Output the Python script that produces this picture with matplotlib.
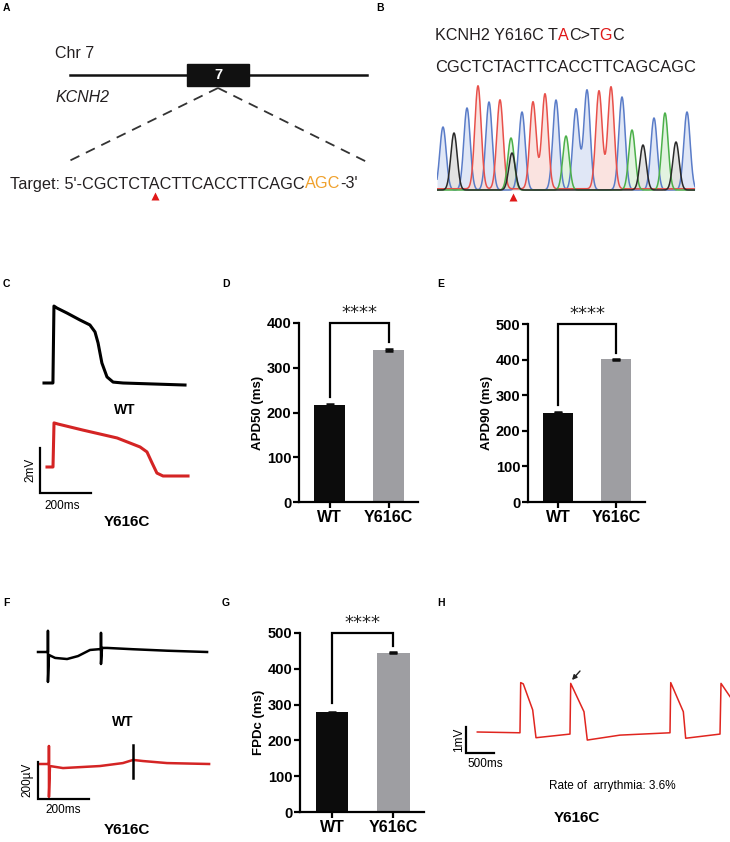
#-----------------------------------------------------------------
# KCNH2 Y616C figure: genotyping, AP / FP traces and duration bars
#-----------------------------------------------------------------

import matplotlib
matplotlib.use('Agg')
import matplotlib.pyplot as plt
import numpy as np
from matplotlib.offsetbox import TextArea, HPacker, AnnotationBbox

plt.rcParams['font.family'] = ['Liberation Sans', 'DejaVu Sans']

#============== Data ===============

# A / B : sequence
target_seq = "CGCTCTACTTCACCTTCAGC"
pam_seq = "AGC"

# Sanger trace (peak centre in scan points, peak height)
seq_bases = list("CGCTCTACTTCACCTTCAGCAGC")
peak_pos = [443, 454, 467, 478, 489, 500, 511, 522, 533, 545, 556, 566,
            576, 587, 599, 611, 622, 632, 643, 654, 665, 676, 687]
peak_height = [63, 57, 82, 103, 88, 89, 52, 78, 87, 95, 90, 54,
               81, 100, 98, 102, 93, 60, 45, 72, 77, 48, 78]
het_pos, het_height, het_base = 512, 37, 'G'

# C : action potentials (ms, mV)
wt_ap_t = [0, 35, 39, 51, 90, 141, 180, 200, 212, 227, 247, 271, 310, 553]
wt_ap_v = [0, 0, 3.42, 3.33, 3.11, 2.8, 2.58, 2.27, 1.78, 0.89, 0.27, 0.04, 0, -0.09]
mut_ap_t = [0, 23.5, 27.5, 43, 141, 275, 365, 392, 412, 431, 455, 553]
mut_ap_v = [0, 0, 1.96, 1.91, 1.64, 1.29, 0.89, 0.67, 0.18, -0.27, -0.4, -0.4]

# F : field potentials (ms, uV)
wt_fp_t = [0, 39, 39, 39, 43, 67, 114, 157, 204, 247, 247, 247, 251, 271, 372, 506, 663]
wt_fp_v = [0, 0, 114, -162, -16, -32, -38, -22, 11, 16, 103, -65, 22, 22, 15, 7, 0]
mut_fp_t = [0, 39, 39, 39, 43, 94, 239, 329, 369, 408, 502, 667]
mut_fp_v = [0, 0, 97, -178, -11, -22, -11, 5, 22, 16, 5, 0]
mut_fp_mark_t = 369
mut_fp_mark_v = [103, -76]

# H : arrhythmic trace (ms, mV)
arr_t = [0, 762, 775, 821, 989, 1048, 1655, 1668, 1905, 1964, 2548, 3441,
         3454, 3679, 3721, 4334, 4352, 4513]
arr_v = [0, -0.03, 1.9, 1.85, 0.85, -0.22, -0.08, 1.87, 0.78, -0.31, -0.12, -0.03,
         1.9, 0.78, -0.24, -0.08, 1.87, 1.36]

# D, E, G : bars
groups = ['WT', 'Y616C']
apd50 = [217, 340]
apd90 = [251, 401]
fpdc = [278, 445]
sem = [1.5, 1.5]

#============== Helpers ===============

W, H = 730, 842
fig = plt.figure(figsize=(7.3, 8.42), dpi=100)
RED = '#d42424'
TXT = '#231f20'


def px_axes(x0, y0, x1, y1):
    return fig.add_axes([x0 / W, 1 - y1 / H, (x1 - x0) / W, (y1 - y0) / H])


# trace axes: origin = pixel of (0, 0), scale = pixels per unit
def trace_axes(rect, origin, scale):
    x0, y0, x1, y1 = rect
    ox, oy = origin
    sx, sy = scale
    ax = px_axes(x0, y0, x1, y1)
    ax.set_xlim((x0 - ox) / sx, (x1 - ox) / sx)
    ax.set_ylim((oy - y1) / sy, (oy - y0) / sy)
    ax.set_axis_off()
    return ax


def scale_bar(ax, t0, v0, dt, dv):
    ax.plot([t0, t0, t0 + dt], [v0 + dv, v0, v0], color='k', lw=1.6,
            solid_joinstyle='miter', clip_on=False)


def color_text(ax, x, y, parts, size):
    boxes = [TextArea(s, textprops=dict(color=c, fontsize=size)) for s, c in parts]
    pack = HPacker(children=boxes, align='baseline', pad=0, sep=0)
    ab = AnnotationBbox(pack, (x, y), xycoords='data', box_alignment=(0, 0.5),
                        frameon=False, pad=0)
    ax.add_artist(ab)


def bar_panel(rect, vals, ymax, ylabel, legs):
    ax = px_axes(*rect)
    x = np.arange(len(groups))
    ax.bar(x, vals, width=0.53, color=['#0c0c0c', '#9e9ea2'], zorder=2)
    ax.errorbar(x, vals, yerr=sem, fmt='none', ecolor='#0c0c0c', capsize=3.2,
                elinewidth=1.5, capthick=1.8, zorder=3)
    ax.set_xlim(-0.52, 1.5)
    ax.set_ylim(0, ymax)
    ax.set_yticks(np.arange(0, ymax + 1, 100))
    ax.set_xticks(x)
    ax.set_xticklabels(groups, fontsize=11.5, fontweight='bold')
    for s in ['top', 'right']:
        ax.spines[s].set_visible(False)
    for s in ['left', 'bottom']:
        ax.spines[s].set_linewidth(1.6)
    ax.tick_params(axis='both', width=1.6, length=4, pad=1.5)
    ax.tick_params(axis='y', labelsize=10.5)
    for lab in ax.get_yticklabels():
        lab.set_fontweight('bold')
    ax.set_ylabel(ylabel, fontsize=9.5, fontweight='bold', labelpad=2)
    ax.plot([0, 0, 1, 1], [legs[0], ymax, ymax, legs[1]], color='k', lw=1.6,
            clip_on=False, solid_joinstyle='miter')
    ax.text(0.5, ymax * 1.004, '****', ha='center', va='bottom', fontsize=13,
            family='DejaVu Sans', color='#222222')
    return ax

#============== Overlay (pixel coords) ===============

ov = px_axes(0, 0, W, H)
ov.set_xlim(0, W)
ov.set_ylim(H, 0)
ov.set_axis_off()

for lab, x, y in [('A', 3, 8), ('B', 376, 8), ('C', 3, 284), ('D', 222, 284),
                  ('E', 437, 284), ('F', 3, 603), ('G', 222, 603), ('H', 437, 603)]:
    ov.text(x, y, lab, fontsize=7.5, fontweight='bold', ha='left', va='center')

# A : gene schematic
ov.text(55, 53, 'Chr 7', fontsize=11.5, color=TXT, va='center')
ov.text(55, 97, 'KCNH2', fontsize=11.5, style='italic', color=TXT, va='center')
ov.plot([70, 367], [75, 75], color='#111111', lw=1.8)
ov.add_patch(plt.Rectangle((187, 64), 62, 22, color='#111111', zorder=3))
ov.text(218, 75, '7', color='white', fontsize=10.5, fontweight='bold',
        ha='center', va='center', zorder=4)
ov.plot([218, 65], [88, 163], color='#333333', lw=1.3, ls=(0, (5.5, 4)))
ov.plot([218, 367], [88, 162], color='#333333', lw=1.3, ls=(0, (5.5, 4)))
color_text(ov, 10, 184, [("Target: 5'-" + target_seq, TXT), (pam_seq, '#f0a12c'),
                         ("-3'", TXT)], 11.7)
ov.plot(155, 196, marker='^', color='#e01818', ms=6, mec='none')

# B : genotype
color_text(ov, 435, 35, [('KCNH2 Y616C T', TXT), ('A', '#e01818'), ('C>T', TXT),
                         ('G', '#e01818'), ('C', TXT)], 11.6)
ov.text(435, 68, ''.join(seq_bases), fontsize=11.9, color=TXT, va='center')
ov.plot(513, 197, marker='^', color='#e01818', ms=6, mec='none')

# C / F / H labels
ov.text(125, 410, 'WT', fontsize=10, fontweight='bold', ha='center', va='center')
ov.text(127, 522, 'Y616C', fontsize=11, fontweight='bold', ha='center', va='center')
ov.text(30, 470, '2mV', fontsize=8.5, rotation=90, ha='center', va='center')
ov.text(62, 506, '200ms', fontsize=8.5, ha='center', va='center')

ov.text(123, 722, 'WT', fontsize=10, fontweight='bold', ha='center', va='center')
ov.text(127, 830, 'Y616C', fontsize=11, fontweight='bold', ha='center', va='center')
ov.text(27, 780, '200µV', fontsize=8.5, rotation=90, ha='center', va='center')
ov.text(63, 810, '200ms', fontsize=8.5, ha='center', va='center')

ov.text(459, 740, '1mV', fontsize=8.5, rotation=90, ha='center', va='center')
ov.text(485, 764, '500ms', fontsize=8.5, ha='center', va='center')
ov.text(612, 786, 'Rate of  arrythmia: 3.6%', fontsize=8.5, ha='center', va='center')
ov.text(577, 818, 'Y616C', fontsize=11, fontweight='bold', ha='center', va='center')
ov.annotate('', xy=(572, 680), xytext=(580, 671),
            arrowprops=dict(arrowstyle='-|>', color='#222222', lw=1,
                            mutation_scale=7, shrinkA=0, shrinkB=0))

#============== B : chromatogram ===============

cax = px_axes(437, 80, 695, 195)
cax.set_xlim(437, 695)
cax.set_ylim(-5, 110)
cax.set_axis_off()
base_color = {'C': '#5a7cc8', 'T': '#e8504a', 'A': '#4cb04a', 'G': '#2a2a2a'}
base_fill = {'C': '#d3ddf3', 'T': '#f9d8d3', 'A': '#d6eed3', 'G': '#d6d6d6'}
xs = np.linspace(437, 695, 1500)
sig = 3.2
for b in 'CTAG':
    ys = np.zeros_like(xs)
    for p, h, s in zip(peak_pos, peak_height, seq_bases):
        if s == b:
            ys += h * np.exp(-(xs - p) ** 2 / (2 * sig ** 2))
    if b == het_base:
        ys += het_height * np.exp(-(xs - het_pos) ** 2 / (2 * sig ** 2))
    cax.fill_between(xs, 0, ys, color=base_fill[b], alpha=0.7, lw=0)
for b in 'CTAG':
    ys = np.zeros_like(xs)
    for p, h, s in zip(peak_pos, peak_height, seq_bases):
        if s == b:
            ys += h * np.exp(-(xs - p) ** 2 / (2 * sig ** 2))
    if b == het_base:
        ys += het_height * np.exp(-(xs - het_pos) ** 2 / (2 * sig ** 2))
    cax.plot(xs, ys + (1.2 if b == 'T' else 0), color=base_color[b], lw=1.1)

#============== C : action potentials ===============

ax_c = trace_axes((20, 290, 200, 515), (44, 383), (51 / 200, 22.5))
ax_c.plot(wt_ap_t, wt_ap_v, color='k', lw=2.2)
mut_dt, mut_dv = 3 / (51 / 200), -(467 - 383) / 22.5
ax_c.plot(np.array(mut_ap_t) + mut_dt, np.array(mut_ap_v) + mut_dv, color=RED, lw=2.2)
scale_bar(ax_c, -4 / (51 / 200), -(493 - 383) / 22.5, 200, 2)

#============== F : field potentials ===============

ax_f = trace_axes((20, 620, 215, 805), (38, 652), (51 / 200, 37 / 200))
ax_f.plot(wt_fp_t, wt_fp_v, color='k', lw=1.8)
mut_fdt, mut_fdv = 1 / (51 / 200), -(764 - 652) / (37 / 200)
ax_f.plot(np.array(mut_fp_t) + mut_fdt, np.array(mut_fp_v) + mut_fdv, color=RED, lw=1.8)
ax_f.plot([mut_fp_mark_t + mut_fdt] * 2, np.array(mut_fp_mark_v) + mut_fdv, color='k', lw=1.8)
scale_bar(ax_f, 0, -(799 - 652) / (37 / 200), 200, 200)

#============== H : arrhythmia ===============

ax_h = trace_axes((440, 650, 730, 770), (477.3, 732), (28 / 500, 26))
ax_h.plot(arr_t, arr_v, color='#e0251f', lw=1.1)
scale_bar(ax_h, (466 - 477.3) / (28 / 500), -(753 - 732) / 26, 500, 1)

#============== D, E, G : bars ===============

bar_panel((299, 323, 418, 502), apd50, 400, 'APD50 (ms)', (235, 357))
bar_panel((528, 324, 645, 502), apd90, 500, 'APD90 (ms)', (272, 418))
bar_panel((300, 633, 424, 812), fpdc, 500, 'FPDc (ms)', (304, 463))

fig.savefig('out.png', dpi=100)
